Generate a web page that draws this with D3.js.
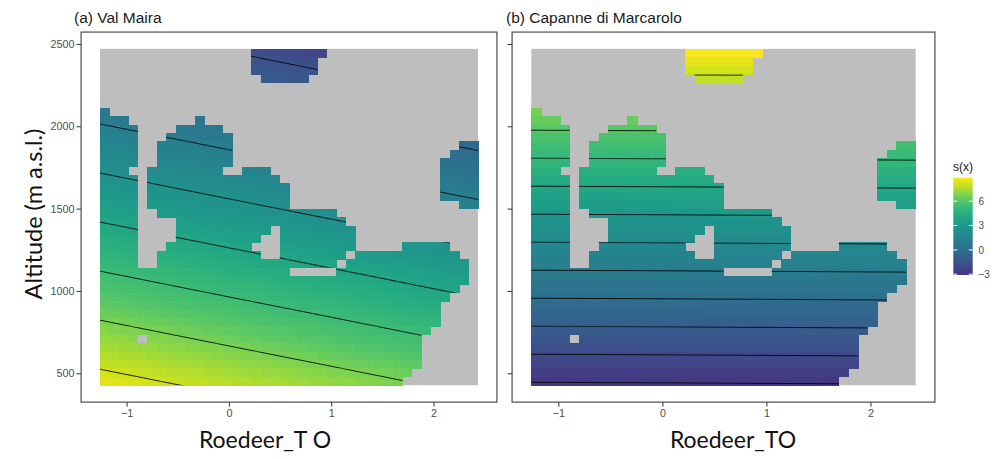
<!DOCTYPE html>
<html><head><meta charset="utf-8">
<script src="https://cdn.jsdelivr.net/npm/d3@7"></script>
<style>body{margin:0;background:#fff;} svg{display:block}</style>
</head><body>
<svg id="c" width="997" height="459"></svg>
<script>
// ---------------- data ----------------
const panelTitles = ["(a) Val Maira", "(b) Capanne di Marcarolo"];
const xAxisTitles = ["Roedeer_T O", "Roedeer_TO"];
const yAxisTitle = "Altitude (m a.s.l.)";
const legendTitle = "s(x)";
const xTicks = [-1, 0, 1, 2];
const yTicks = [500, 1000, 1500, 2000, 2500];
const legendTicks = [-3, 0, 3, 6];
const xRange = [-1.26, 2.435];      // Roedeer_TO extent of prediction grid
const altRange = [427, 2470];       // altitude extent of prediction grid
const nGrid = 40;
const sRange = [-3.1, 8.9];         // colour bar range of s(x)
// colour bar: s(x) values and the viridis position read at them
const colourStops = [-3.1, 0, 3, 6, 8.9];
const colourPos = [0.15, 0.36, 0.53, 0.73, 1.0];

// coverage of the 40x40 prediction grid (row 0 = highest altitude); [first col, last col] runs
const coverage = [
  [[16,23]], [[16,22]], [[16,22]], [[17,21]], [], [], [],
  [[0,0]],
  [[0,2],[10,10]],
  [[0,3],[8,12]],
  [[0,3],[7,13]],
  [[0,3],[6,13],[38,39]],
  [[0,3],[6,13],[37,39]],
  [[0,3],[6,13],[36,39]],
  [[0,2],[5,12],[15,17],[36,39]],
  [[0,3],[5,18],[36,39]],
  [[0,3],[5,19],[36,39]],
  [[0,3],[5,19],[36,39]],
  [[0,3],[5,19],[38,39]],
  [[0,3],[6,24]],
  [[0,3],[8,25]],
  [[0,3],[8,17],[19,26]],
  [[0,3],[8,16],[19,26]],
  [[0,3],[7,15],[19,26],[32,36]],
  [[0,3],[6,16],[19,25],[27,37]],
  [[0,3],[6,24],[26,38]],
  [[0,19],[25,38]],
  [[0,38]], [[0,37]], [[0,36]], [[0,35]], [[0,35]], [[0,35]], [[0,34]],
  [[0,3],[5,33]],
  [[0,33]], [[0,33]], [[0,33]], [[0,32]], [[0,31]]
];

// smooth s(x) at these nodes
const fieldX = [-1.25, 0, 1, 2.45];
const fieldAlt = [2470, 2000, 1500, 1000, 430];
const fieldA = [
  [-1.05, -1.78, -2.37, -3.21],
  [ 1.16,  0.43, -0.16, -1.00],
  [ 3.51,  2.78,  2.20,  1.35],
  [ 5.86,  5.13,  4.55,  3.70],
  [ 8.54,  7.81,  7.23,  6.38]
];
const fieldB = [
  [ 8.90,  8.93,  8.94,  8.97],
  [ 6.14,  6.16,  6.18,  6.21],
  [ 3.20,  3.22,  3.24,  3.27],
  [ 0.26,  0.28,  0.30,  0.33],
  [-3.09, -3.07, -3.05, -3.02]
];
const levelsA = [-1.7, -0.3, 1.1, 2.5, 3.9, 5.3, 6.7, 8.1];
const levelsB = [-3, -2, -1, 0, 1, 2, 3, 4, 5, 6, 7, 8];

// ---------------- drawing ----------------
const svg = d3.select("#c");
const defs = svg.append("defs");
const tScale = d3.scaleLinear().domain(colourStops).range(colourPos).clamp(true);
const colour = v => d3.interpolateViridis(tScale(v));

const yScale = d3.scaleLinear().domain(altRange).range([385.3, 48.9]);
const fxIdx = d3.scaleLinear().domain(fieldX).range(fieldX.map((d, i) => i));
const faIdx = d3.scaleLinear().domain(fieldAlt).range(fieldAlt.map((d, i) => i));

function fieldValue(F, x, alt) {
  const fi = fxIdx(x), fj = faIdx(alt);
  const kx = Math.max(0, Math.min(fieldX.length - 2, Math.floor(fi)));
  const ky = Math.max(0, Math.min(fieldAlt.length - 2, Math.floor(fj)));
  const tx = fi - kx, ty = fj - ky;
  const top = (1 - tx) * F[ky][kx] + tx * F[ky][kx + 1];
  const bot = (1 - tx) * F[ky + 1][kx] + tx * F[ky + 1][kx + 1];
  return (1 - ty) * top + ty * bot;
}

const panels = [
  { id: "a", field: fieldA, levels: levelsA, gx: [100, 478], labels: true, titleX: 74, xTitleX: 265 },
  { id: "b", field: fieldB, levels: levelsB, gx: [531.3, 915.7], labels: false, titleX: 506, xTitleX: 733 }
];

const dx = (xRange[1] - xRange[0]) / nGrid;
const dAlt = (altRange[1] - altRange[0]) / nGrid;
const xSpan = xRange[1] - xRange[0], aSpan = altRange[1] - altRange[0];

panels.forEach((p, pi) => {
  const xs = d3.scaleLinear().domain(xRange).range(p.gx);
  const g = svg.append("g");
  const cw = (p.gx[1] - p.gx[0]) / nGrid;
  const gy0 = yScale(altRange[1]);
  const ch = (yScale(altRange[0]) - gy0) / nGrid;

  const fx0 = xs(xRange[0] - 0.05 * xSpan), fx1 = xs(xRange[1] + 0.05 * xSpan);
  const fy0 = yScale(altRange[1] + 0.05 * aSpan), fy1 = yScale(altRange[0] - 0.05 * aSpan);

  g.append("rect").attr("x", p.gx[0]).attr("y", gy0)
    .attr("width", p.gx[1] - p.gx[0]).attr("height", ch * nGrid).attr("fill", "#bebebe");

  const cells = [];
  coverage.forEach((runs, r) => runs.forEach(([s, e]) => {
    for (let c = s; c <= e; c++) cells.push({ r, c });
  }));
  g.append("g").attr("shape-rendering", "crispEdges").selectAll("rect").data(cells).join("rect")
    .attr("x", d => xs(xRange[0] + d.c * dx))
    .attr("y", d => yScale(altRange[1] - d.r * dAlt))
    .attr("width", cw + 0.6).attr("height", ch + 0.6)
    .attr("fill", d => colour(fieldValue(p.field, xRange[0] + (d.c + 0.5) * dx, altRange[1] - (d.r + 0.5) * dAlt)));

  const clip = defs.append("clipPath").attr("id", "clip" + p.id);
  coverage.forEach((runs, r) => runs.forEach(([s, e]) => {
    clip.append("rect").attr("x", xs(xRange[0] + s * dx)).attr("y", yScale(altRange[1] - r * dAlt))
      .attr("width", (e - s + 1) * cw).attr("height", ch);
  }));

  const P = 3, n = nGrid + 2 * P;
  const vals = new Array(n * n);
  for (let j = 0; j < n; j++) for (let i = 0; i < n; i++) {
    const c = i - P, r = j - P;
    vals[j * n + i] = fieldValue(p.field, xRange[0] + (c + 0.5) * dx, altRange[1] - (r + 0.5) * dAlt);
  }
  const contours = d3.contours().size([n, n]).thresholds(p.levels)(vals);
  const toPath = mp => mp.coordinates.map(poly => poly.map(ring =>
    "M" + ring.map(([cx, cy]) => [(p.gx[0] + (cx - P) * cw).toFixed(2), (gy0 + (cy - P) * ch).toFixed(2)].join(",")).join("L")
  ).join("")).join("");
  g.append("g").attr("clip-path", `url(#clip${p.id})`).selectAll("path").data(contours).join("path")
    .attr("d", toPath).attr("fill", "none").attr("stroke", "#000").attr("stroke-width", 0.85);

  g.append("rect").attr("x", fx0).attr("y", fy0).attr("width", fx1 - fx0).attr("height", fy1 - fy0)
    .attr("fill", "none").attr("stroke", "#4d4d4d").attr("stroke-width", 1.2);

  const yAx = d3.axisLeft(yScale).tickValues(yTicks).tickSize(4.5).tickPadding(2)
    .tickFormat(p.labels ? d3.format("d") : () => "");
  const ya = g.append("g").attr("transform", `translate(${fx0},0)`).call(yAx);
  const xAx = d3.axisBottom(xs).tickValues(xTicks).tickSize(4.5).tickPadding(3).tickFormat(d3.format("d"));
  const xa = g.append("g").attr("transform", `translate(0,${fy1})`).call(xAx);
  [ya, xa].forEach(a => {
    a.select(".domain").remove();
    a.selectAll("line").attr("stroke", "#333");
    a.selectAll("text").attr("fill", "#4d4d4d").style("font", "10.8px 'Liberation Sans', Arial, sans-serif");
  });

  svg.append("text").attr("x", p.titleX).attr("y", 22.5).text(panelTitles[pi])
    .attr("fill", "#1a1a1a").style("font", "15.5px 'Liberation Sans', Arial, sans-serif");
  svg.append("text").attr("x", p.xTitleX).attr("y", 448).attr("text-anchor", "middle").text(xAxisTitles[pi])
    .attr("fill", "#111").style("font", "23px Lato, 'Open Sans', sans-serif");
});

svg.append("text").attr("transform", "translate(42,214) rotate(-90)").attr("text-anchor", "middle")
  .text(yAxisTitle).attr("fill", "#111").style("font", "23.5px Lato, 'Open Sans', sans-serif");

// legend
const lg = svg.append("g");
const ls = d3.scaleLinear().domain(sRange).range([275, 177.7]);
const grad = defs.append("linearGradient").attr("id", "lgrad").attr("x1", 0).attr("y1", 1).attr("x2", 0).attr("y2", 0);
d3.range(0, 1.0001, 0.025).forEach(o => grad.append("stop").attr("offset", o)
  .attr("stop-color", colour(sRange[0] + o * (sRange[1] - sRange[0]))));
const lx0 = 953.3, lw = 19.4;
lg.append("rect").attr("x", lx0).attr("y", ls(sRange[1])).attr("width", lw)
  .attr("height", ls(sRange[0]) - ls(sRange[1])).attr("fill", "url(#lgrad)");
legendTicks.forEach(t => {
  lg.append("line").attr("x1", lx0).attr("x2", lx0 + 3.9).attr("y1", ls(t)).attr("y2", ls(t)).attr("stroke", "#fff").attr("stroke-width", 1);
  lg.append("line").attr("x1", lx0 + lw - 3.9).attr("x2", lx0 + lw).attr("y1", ls(t)).attr("y2", ls(t)).attr("stroke", "#fff").attr("stroke-width", 1);
  lg.append("text").attr("x", 978.5).attr("y", ls(t) + 3.8).text(t < 0 ? "\u2212" + Math.abs(t) : t)
    .attr("fill", "#4d4d4d").style("font", "10px 'Liberation Sans', Arial, sans-serif");
});
lg.append("text").attr("x", 953).attr("y", 171).text(legendTitle)
  .attr("fill", "#1a1a1a").style("font", "12px 'Liberation Sans', Arial, sans-serif");
</script>
</body></html>
